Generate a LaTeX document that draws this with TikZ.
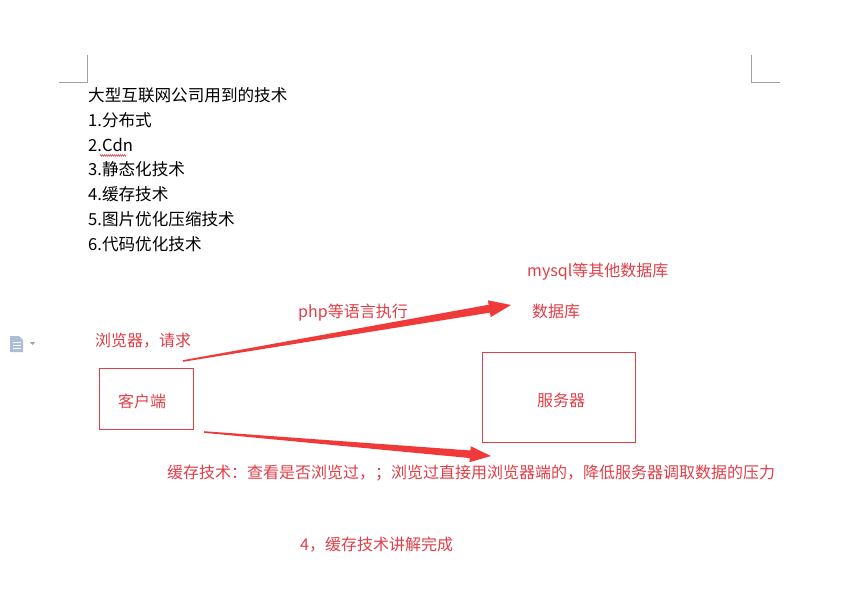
\documentclass[tikz,border=0pt]{standalone}
\usepackage{fontspec}
\setmainfont{Noto Sans CJK SC}
\usetikzlibrary{calc,decorations.pathmorphing}
\definecolor{txtred}{RGB}{226,62,72}
\definecolor{arrred}{RGB}{240,58,58}
\definecolor{markgray}{RGB}{160,160,160}
\definecolor{iconblue}{RGB}{170,190,215}
\newcommand\taperarrow[6]{%
  \fill[arrred] ($(#1)!#3!90:(#2)$)
    -- ($(#2)!#5!(#1)!#6!-90:(#1)$)
    -- ($(#2)!#5!(#1)!#4!-90:(#1)$)
    -- (#2)
    -- ($(#2)!#5!(#1)!#4!90:(#1)$)
    -- ($(#2)!#5!(#1)!#6!90:(#1)$)
    -- ($(#1)!#3!-90:(#2)$) -- cycle;}
\begin{document}
\begin{tikzpicture}[x=1pt,y=-1pt,
  blacktext/.style={anchor=west,inner sep=0pt,font=\fontsize{16.6}{18}\selectfont,text=black},
  redtext/.style={anchor=west,inner sep=0pt,font=\fontsize{16}{18}\selectfont,text=txtred},
  redbox/.style={draw=txtred,line width=0.9pt,inner sep=0pt},
  cornermark/.style={draw=markgray,line width=0.8pt}]
\useasboundingbox[fill=white] (0,0) rectangle (853,599);
% page corner marks
\draw[cornermark] (87,55) -- (87,82) -- (59,82);
\draw[cornermark] (751,55) -- (751,82) -- (780,82);
% side icon
\fill[iconblue] (10,336) -- (19,336) -- (23,340) -- (23,352) -- (10,352) -- cycle;
\draw[white,line width=0.8pt] (12.5,342) -- (20.5,342) (12.5,345) -- (20.5,345) (12.5,348) -- (20.5,348);
\fill[markgray] (30,342) -- (35,342) -- (32.5,345) -- cycle;
% black list
\node[blacktext] (t0) at (88,95) {大型互联网公司用到的技术};
\node[blacktext] (t1) at (88,120) {1.分布式};
\node[blacktext] (t2) at (88,145) {2.Cdn};
\node[blacktext] (t3) at (88,169) {3.静态化技术};
\node[blacktext] (t4) at (88,194) {4.缓存技术};
\node[blacktext] (t5) at (88,219) {5.图片优化压缩技术};
\node[blacktext] (t6) at (88,244) {6.代码优化技术};
\draw[txtred,line width=0.5pt,decorate,decoration={zigzag,segment length=2pt,amplitude=0.8pt}] (100,155.5) -- (126,155.5);
% red labels
\node[redtext] (mysql) at (527,272) {mysql等其他数据库};
\node[redtext] (db) at (532,311) {数据库};
\node[redtext] (php) at (298,313) {php等语言执行};
\node[redtext] (browser) at (95,341) {浏览器，请求};
\node[redtext] (cache) at (167,473) {缓存技术：查看是否浏览过，；浏览过直接用浏览器端的，降低服务器调取数据的压力};
\node[redtext] (done) at (300,545) {4，缓存技术讲解完成};
% boxes
\node[redbox,minimum width=94pt,minimum height=61pt] (client) at (146,398.5) {};
\node[redtext,anchor=center] (clientlbl) at (142,401) {客户端};
\node[redbox,minimum width=153pt,minimum height=90pt] (server) at (558.5,397) {};
\node[redtext,anchor=center] (serverlbl) at (561,400) {服务器};
% arrows
\coordinate (a1s) at (183,361);
\coordinate (a1e) at (511,305);
\coordinate (a2s) at (204,432);
\coordinate (a2e) at (491,456);
\taperarrow{a1s}{a1e}{0.8pt}{8.5pt}{22pt}{4pt}
\taperarrow{a2s}{a2e}{0.8pt}{8pt}{21pt}{3.8pt}
\end{tikzpicture}
\end{document}
